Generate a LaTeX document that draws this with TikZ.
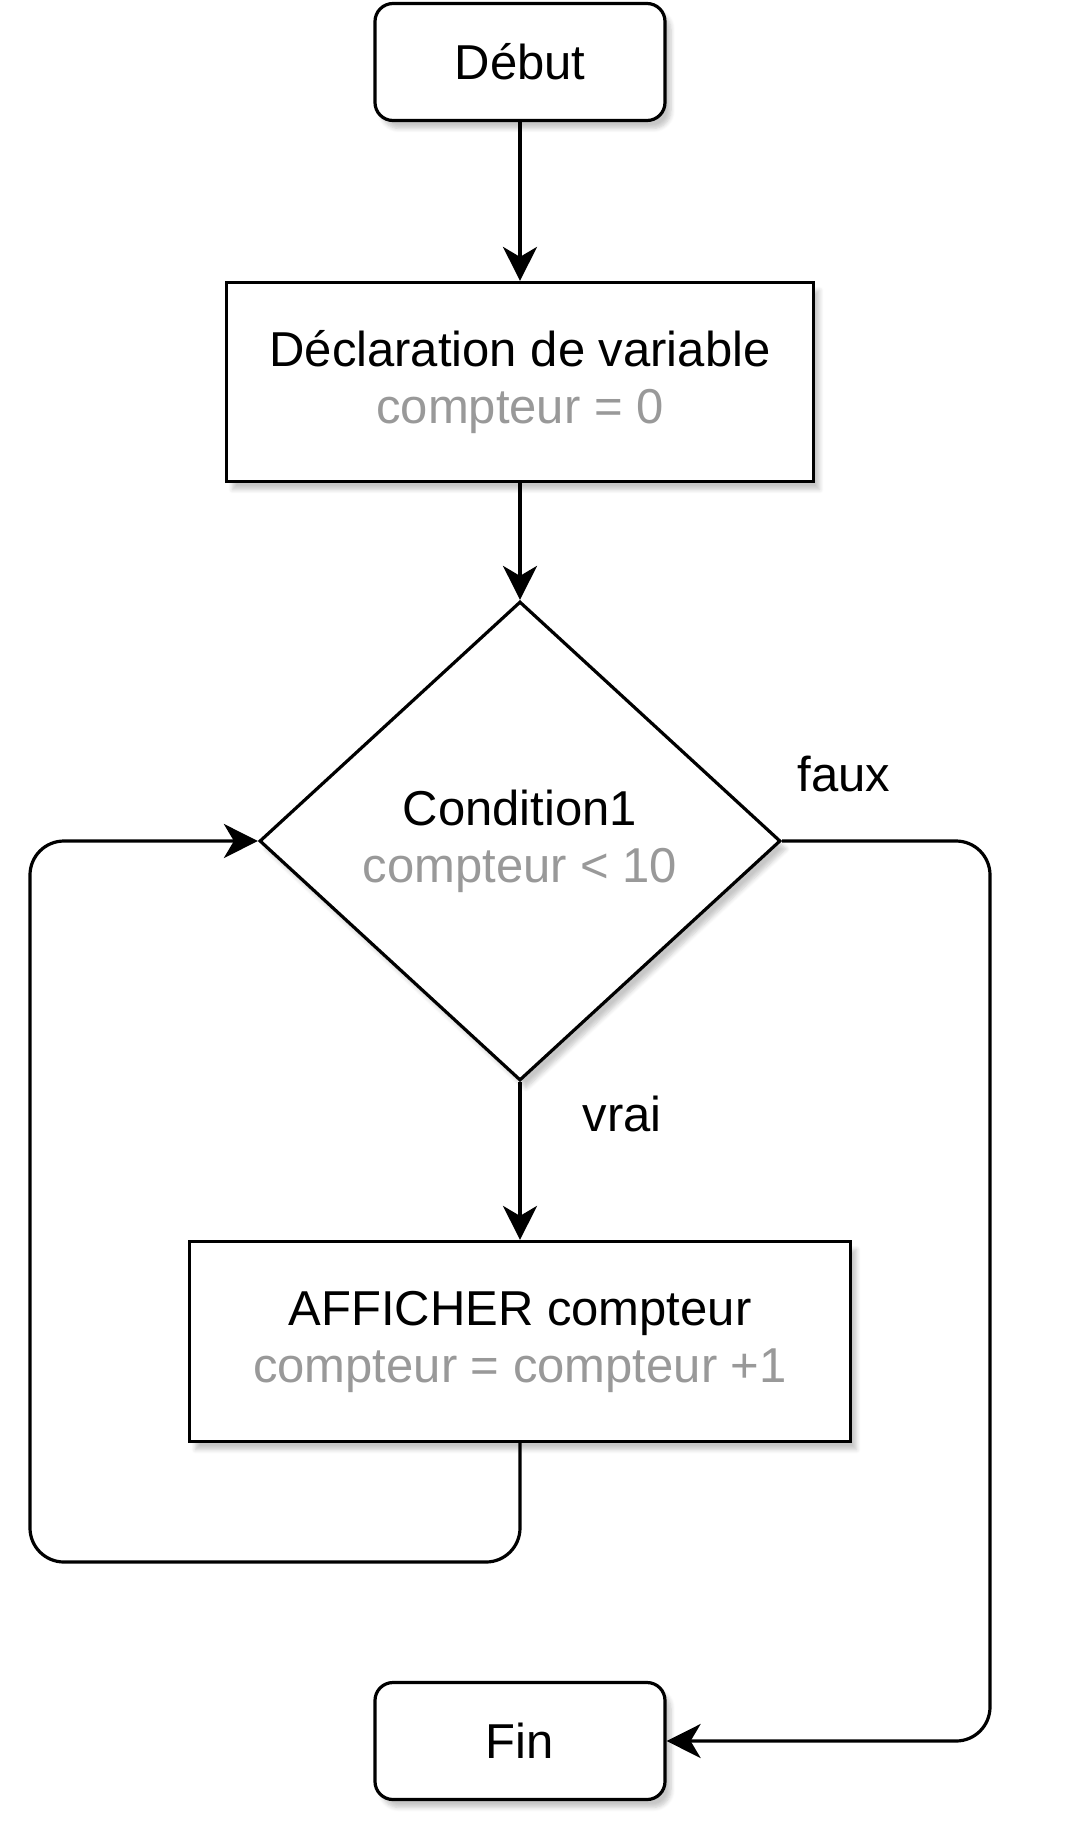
\documentclass[tikz,border=0pt]{standalone}
\usepackage{fontspec}
\setmainfont{Liberation Sans}
\usepackage{xcolor}
\usetikzlibrary{arrows.meta,positioning,shapes.geometric,shadows.blur}
\definecolor{grisTexte}{HTML}{999999}
\newcommand{\detail}[1]{\textcolor{grisTexte}{#1}}

\begin{document}
\begin{tikzpicture}[x=0.5pt, y=0.5pt, every node/.style={font=\fontsize{24.5}{28.5}\selectfont}, >={Stealth[length=17pt,width=17pt,inset=5pt]}, line width=1.6pt]
\tikzstyle{ombre}=[blur shadow={shadow xshift=3pt, shadow yshift=-4pt, shadow opacity=22, shadow blur steps=6}]
\tikzstyle{terminal}=[draw, rounded corners=9pt, align=center, minimum width=145pt, minimum height=58.5pt, fill=white, ombre]
\tikzstyle{instr}=[draw, align=center, fill=white, ombre]
\tikzstyle{test}=[draw, diamond, align=center, inner sep=0pt, minimum width=260.5pt, minimum height=239.5pt, fill=white, ombre]
\tikzstyle{lien}=[->, rounded corners=17pt]
\useasboundingbox (0,0) rectangle (1068,-1848);
\node[terminal] (debut) at (520,-62) {Début};
\node[instr, below=79.4pt of debut, minimum width=293.5pt, minimum height=99.5pt] (decl) {Déclaration de variable\\\detail{compteur = 0}};
\node[test, below=58.4pt of decl] (cond) {Condition1\\\detail{compteur < 10}};
\node[instr, below=78.9pt of cond, minimum width=330.5pt, minimum height=100pt] (aff) {AFFICHER compteur\\\detail{compteur = compteur +1}};
\node[terminal, below=118.9pt of aff] (fin) {Fin};
\coordinate (boucle) at (30,-1562);
\coordinate (droite) at (990,0);
\node (faux) at (844,-774) {faux};
\node (vrai) at (622,-1114) {vrai};
\draw[lien] (debut) -- (decl);
\draw[lien] (decl) -- (cond);
\draw[lien] (cond) -- (aff);
\draw[lien] (aff.south) |- (boucle) |- (cond.west);
\draw[lien] (cond.east) -- (cond.east -| droite) |- (fin.east);
\end{tikzpicture}
\end{document}
